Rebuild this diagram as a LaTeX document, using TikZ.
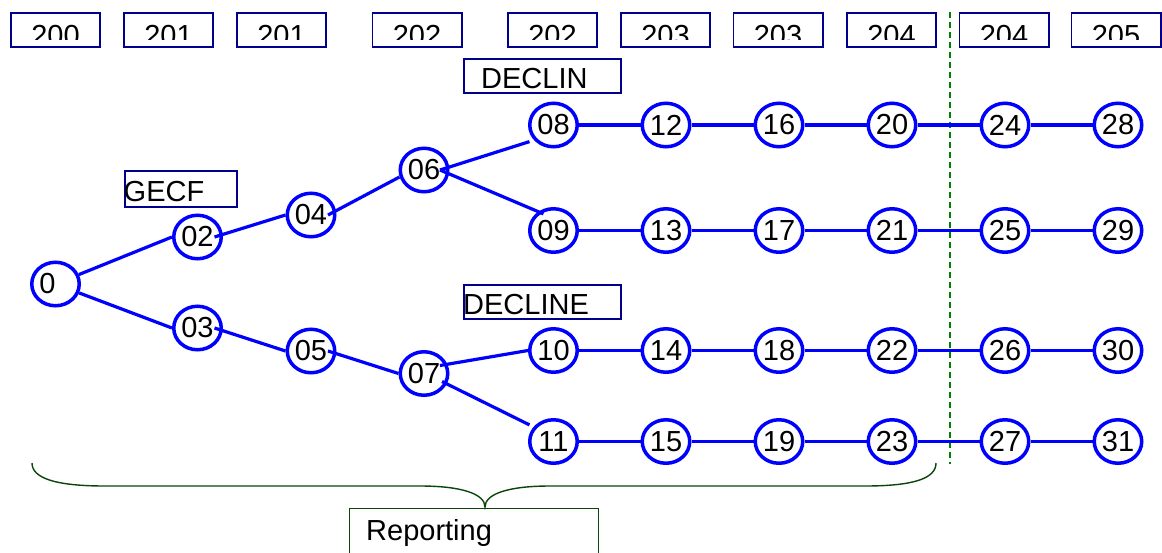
\documentclass[tikz,border=0pt]{standalone}
\usepackage{fontspec}
\setmainfont{Liberation Sans}
\usetikzlibrary{shapes.geometric}
\definecolor{stateblue}{RGB}{0,0,255}
\definecolor{navyline}{RGB}{0,0,140}
\definecolor{bracegreen}{RGB}{10,70,10}
\definecolor{cutgreen}{RGB}{0,128,0}

\begin{document}
\begin{tikzpicture}[x=1pt,y=-1pt,
  every node/.style={font=\fontsize{29}{32}\selectfont},
  state/.style={ellipse,draw=stateblue,line width=3.5pt,minimum width=47.5pt,
    minimum height=43.5pt,inner sep=0pt},
  conn/.style={draw=stateblue,line width=3.2pt},
  yearbox/.style={draw=navyline,line width=1.8pt,minimum width=89.2pt,
    minimum height=34.2pt,inner sep=0pt},
  yeartext/.style={anchor=base,inner sep=0pt},
  tagbox/.style={draw=navyline,line width=1.8pt,inner sep=0pt,anchor=north west},
  tagtext/.style={anchor=base west,inner sep=0pt}]

% canvas
\fill[white] (0,0) rectangle (1162,552);
\useasboundingbox (0,0) rectangle (1162,552);

% year header boxes
\foreach \cx/\nm in {55.5/ya,168.5/yb,281.5/yc,417/yd,552.5/ye,665.5/yf,778/yg,891.5/yh,1004/yi,1116/yj}
  \node[yearbox] (\nm) at (\cx,30) {};
% year labels, cut off along their lower part
\begin{scope}
  \clip (0,0) rectangle (1162,39);
  \foreach \cx/\nm/\yr in {55.5/ta/200,168.5/tb/201,281.5/tc/201,417/td/202,552.5/te/202,
      665.5/tf/203,778/tg/203,891.5/th/204,1004/ti/204,1116/tj/205}
    \node[yeartext] (\nm) at (\cx,45) {\yr};
\end{scope}

% cut-off line between forecast years
\coordinate (cuttop) at (950,12);
\coordinate (cutbot) at (950,464);
\draw[cutgreen,line width=1.8pt,dash pattern=on 6pt off 4pt] (cuttop) -- (cutbot);

% group labels
\node[tagbox,minimum width=157.2pt,minimum height=34.2pt] (declinbox) at (462.9,57.9) {};
\node[tagtext] (declin) at (481,88) {DECLIN};
\node[tagbox,minimum width=157.2pt,minimum height=34.2pt] (declinebox) at (462.9,283.9) {};
\node[tagtext] (decline) at (463,314) {DECLINE};
\node[tagbox,minimum width=112.2pt,minimum height=36.2pt] (gecfbox) at (123.9,169.9) {};
\node[tagtext] (gecf) at (123.5,201.5) {GECF};

% tree of states
\node[state] (n0)  at (55.5,284)  {0\phantom{0}};
\node[state] (n02) at (197.5,237) {02};
\node[state] (n04) at (311,215)   {04};
\node[state] (n06) at (424,170)   {06};
\node[state] (n03) at (197.5,328) {03};
\node[state] (n05) at (311,351)   {05};
\node[state] (n07) at (424,373.5) {07};

\foreach \cx/\a/\b/\c/\d in {553.5/08/09/10/11,666/12/13/14/15,779/16/17/18/19,
    892/20/21/22/23,1005/24/25/26/27,1118/28/29/30/31} {
  \node[state] (n\a) at (\cx,125)   {\a};
  \node[state] (n\b) at (\cx,230.5) {\b};
  \node[state] (n\c) at (\cx,350.5) {\c};
  \node[state] (n\d) at (\cx,441.5) {\d};
}

% branches
\draw[conn] (n0) -- (n02.west);
\draw[conn] ([shift={(17,0)}]n02.center) -- (n04.west);
\draw[conn] ([shift={(17,0)}]n04.center) -- ([shift={(1,7)}]n06.west);
\draw[conn] ([shift={(16,0)}]n06.center) -- ([shift={(-6,0)}]n08.south west);
\draw[conn] ([shift={(16,0)}]n06.center) -- ([shift={(8,0)}]n09.north west);
\draw[conn] (n0) -- (n03.west);
\draw[conn] ([shift={(17,0)}]n03.center) -- (n05.west);
\draw[conn] ([shift={(17,0)}]n05.center) -- (n07.west);
\draw[conn] ([shift={(16,-8)}]n07.center) -- (n10.west);
\draw[conn] ([shift={(18,8)}]n07.center) -- ([shift={(-6,0)}]n11.north west);

% horizontal runs
\foreach \a/\b in {08/12,12/16,16/20,20/24,24/28,
                   09/13,13/17,17/21,21/25,25/29,
                   10/14,14/18,18/22,22/26,26/30,
                   11/15,15/19,19/23,23/27,27/31}
  \draw[conn] (n\a) -- (n\b);

% reporting brace
\coordinate (brl) at (32,463);
\coordinate (brtip) at (485,507);
\coordinate (brr) at (936,463);
\draw[bracegreen,line width=1.4pt]
  (brl) .. controls (32,478) and (55,486) .. (105,486) -- (420,486)
  .. controls (462,486) and (485,494) .. (brtip)
  .. controls (485,494) and (508,486) .. (550,486) -- (865,486)
  .. controls (915,486) and (936,478) .. (brr);
\node[draw=bracegreen,line width=1pt,inner sep=0pt,anchor=north west,
  minimum width=249pt,minimum height=70pt] (repbox) at (349,508) {};
\node[tagtext] (reporting) at (366,540) {Reporting};
\end{tikzpicture}
\end{document}
